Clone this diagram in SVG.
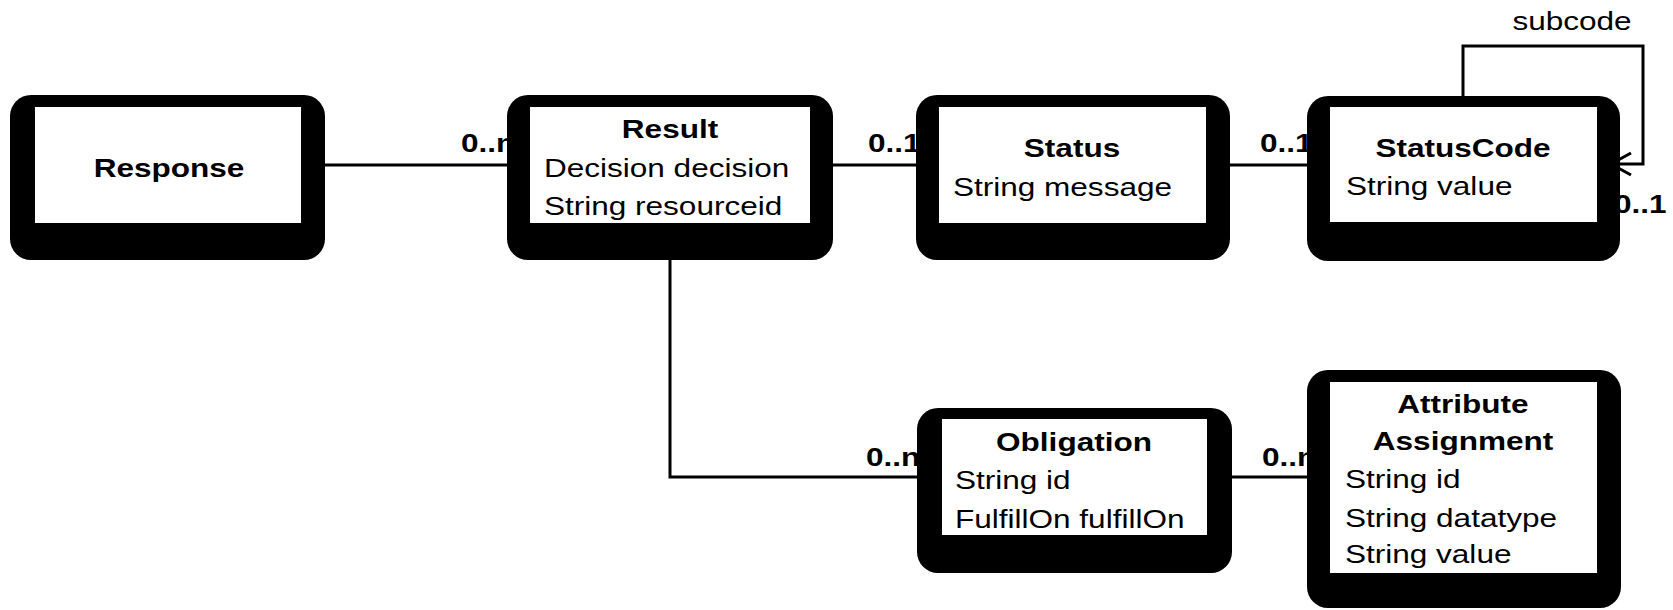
<svg xmlns="http://www.w3.org/2000/svg" width="1673" height="610" viewBox="0 0 1673 610">
<style>
.outer{fill:#000}
.inner{fill:#fff}
.ln{fill:none;stroke:#000;stroke-width:3}
.t{font-family:"Liberation Sans",Arial,sans-serif;font-size:26.5px;fill:#000}
.b{font-weight:bold}
.c{text-anchor:middle}
</style>
<rect width="1673" height="610" fill="#fff"/>
<g id="connectors">
  <line class="ln" x1="325" y1="165" x2="510" y2="165"/>
  <text class="t b" transform="translate(461,152) scale(1.19,1)">0..n</text>
  <line class="ln" x1="830" y1="165" x2="920" y2="165"/>
  <text class="t b" transform="translate(868,152) scale(1.19,1)">0..1</text>
  <line class="ln" x1="1227" y1="165" x2="1310" y2="165"/>
  <text class="t b" transform="translate(1260,152) scale(1.19,1)">0..1</text>
  <polyline class="ln" points="670,258 670,477 920,477"/>
  <text class="t b" transform="translate(866,466) scale(1.19,1)">0..n</text>
  <line class="ln" x1="1229" y1="477" x2="1310" y2="477"/>
  <text class="t b" transform="translate(1262,466) scale(1.19,1)">0..n</text>
  <polyline class="ln" points="1463,97 1463,46 1643,46 1643,164 1612,164"/>
  <polyline class="ln" points="1631,153 1611,164 1631,175"/>
  <text class="t" transform="translate(1572,30) scale(1.19,1)" text-anchor="middle">subcode</text>
  <text class="t b" transform="translate(1614,213) scale(1.19,1)">0..1</text>
</g>
<g id="Response">
  <rect class="outer" x="10" y="95" width="315" height="165" rx="21"/>
  <rect class="inner" x="35" y="107" width="266" height="116"/>
  <text class="t b c" transform="translate(169,177) scale(1.19,1)">Response</text>
</g>
<g id="Result">
  <rect class="outer" x="507" y="95" width="326" height="165" rx="21"/>
  <rect class="inner" x="530" y="107" width="280" height="116"/>
  <text class="t b c" transform="translate(670,138) scale(1.19,1)">Result</text>
  <text class="t" transform="translate(544,177) scale(1.19,1)">Decision decision</text>
  <text class="t" transform="translate(544,215) scale(1.19,1)">String resourceid</text>
</g>
<g id="Status">
  <rect class="outer" x="916" y="95" width="314" height="165" rx="21"/>
  <rect class="inner" x="939" y="107" width="267" height="116"/>
  <text class="t b c" transform="translate(1072,157) scale(1.19,1)">Status</text>
  <text class="t" transform="translate(953,196) scale(1.19,1)">String message</text>
</g>
<g id="StatusCode">
  <rect class="outer" x="1307" y="96" width="313" height="165" rx="21"/>
  <rect class="inner" x="1330" y="107" width="267" height="115"/>
  <text class="t b c" transform="translate(1463,157) scale(1.19,1)">StatusCode</text>
  <text class="t" transform="translate(1346,195) scale(1.19,1)">String value</text>
</g>
<g id="Obligation">
  <rect class="outer" x="917" y="408" width="315" height="165" rx="21"/>
  <rect class="inner" x="942" y="419" width="265" height="116"/>
  <text class="t b c" transform="translate(1074,451) scale(1.19,1)">Obligation</text>
  <text class="t" transform="translate(955,489) scale(1.19,1)">String id</text>
  <text class="t" transform="translate(955,528) scale(1.19,1)">FulfillOn fulfillOn</text>
</g>
<g id="AttributeAssignment">
  <rect class="outer" x="1307" y="370" width="314" height="238" rx="21"/>
  <rect class="inner" x="1330" y="382" width="267" height="191"/>
  <text class="t b c" transform="translate(1463,413) scale(1.19,1)">Attribute</text>
  <text class="t b c" transform="translate(1463,450) scale(1.19,1)">Assignment</text>
  <text class="t" transform="translate(1345,488) scale(1.19,1)">String id</text>
  <text class="t" transform="translate(1345,527) scale(1.19,1)">String datatype</text>
  <text class="t" transform="translate(1345,563) scale(1.19,1)">String value</text>
</g>
</svg>
